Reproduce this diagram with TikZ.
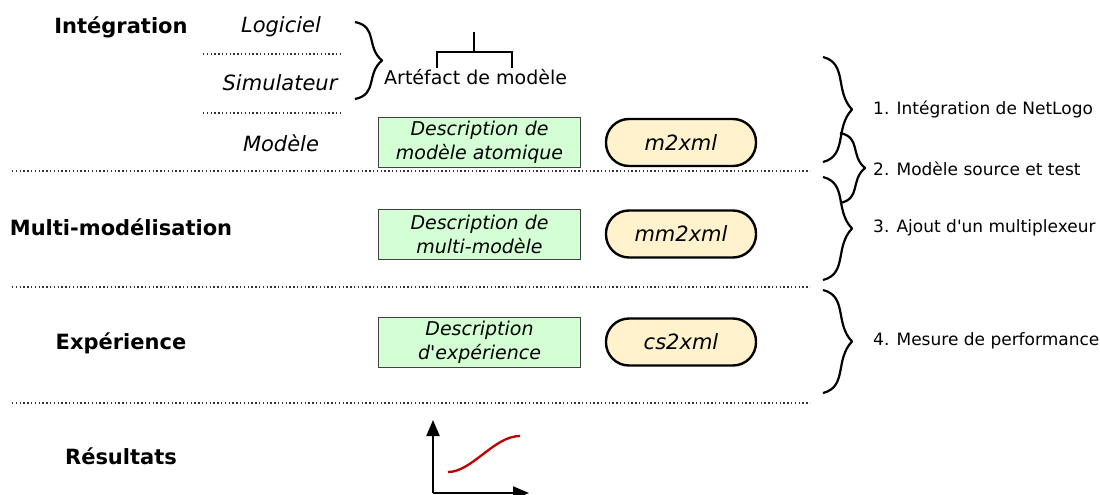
\documentclass[tikz,border=0pt]{standalone}
\usepackage{fontspec}
\setmainfont{DejaVu Sans}[Ligatures=TeXOff]
\usetikzlibrary{arrows.meta}
\definecolor{boxgreen}{RGB}{212,255,212}
\definecolor{cream}{RGB}{255,242,204}
\definecolor{curvered}{RGB}{192,0,0}
\newcommand\curlybrace[4]{%
  \pgfmathsetmacro\cbA{#1+#4}%
  \pgfmathsetmacro\cbM{(#2+#3)/2}%
  \pgfmathsetmacro\cbH{(#3-#2)/2}%
  \draw[bracestyle] (#1,#2) .. controls ({#1+0.85*#4},{#2+0.12*\cbH}) and ({#1+0.4*#4},{\cbM-0.35*\cbH}) .. (\cbA,\cbM)
    .. controls ({#1+0.4*#4},{\cbM+0.35*\cbH}) and ({#1+0.85*#4},{#3-0.12*\cbH}) .. (#1,#3);
}
\begin{document}
\begin{tikzpicture}[x=1pt,y=-1pt,
  section/.style={font=\fontsize{21}{24}\selectfont\bfseries, inner sep=0pt},
  layer/.style={font=\fontsize{21}{24}\selectfont\itshape, inner sep=0pt},
  descbox/.style={draw=black!75, line width=1pt, fill=boxgreen, minimum width=202pt, minimum height=50pt, inner sep=0pt, align=center, font=\fontsize{19}{24}\selectfont\itshape},
  toolbox/.style={draw=black, line width=2.4pt, fill=cream, rounded corners=23pt, minimum width=150pt, minimum height=47pt, inner sep=0pt, font=\fontsize{21}{24}\selectfont\itshape},
  sep/.style={black!80, line width=1.3pt, dash pattern=on 1.3pt off 2.5pt},
  bracestyle/.style={line width=2.2pt, line join=round},
  steplabel/.style={anchor=west, inner sep=0pt, font=\fontsize{17}{20}\selectfont},
  axis/.style={line width=2.2pt, -{Triangle[length=16pt,width=13pt]}}
]
\useasboundingbox (0,0) rectangle (1100,495);

% section titles
\node[section] (tInt) at (121,27) {Intégration};
\node[section] (tMul) at (121,227) {Multi-modélisation};
\node[section] (tExp) at (121,343) {Expérience};
\node[section] (tRes) at (121,456) {Résultats};

% integration sub-layers
\node[layer] (lLog) at (281,27) {Logiciel};
\node[layer] (lSim) at (280,83) {Simulateur};
\node[layer] (lMod) at (281,143) {Modèle};

% separators
\coordinate (s1a) at (203,54);  \coordinate (s1b) at (343,54);
\coordinate (s2a) at (203,113); \coordinate (s2b) at (343,113);
\coordinate (s3a) at (12,171);  \coordinate (s3b) at (810,171);
\coordinate (s4a) at (12,287);  \coordinate (s4b) at (810,287);
\coordinate (s5a) at (12,403);  \coordinate (s5b) at (810,403);
\draw[sep] (s1a) -- (s1b);
\draw[sep] (s2a) -- (s2b);
\draw[sep] (s3a) -- (s3b);
\draw[sep] (s4a) -- (s4b);
\draw[sep] (s5a) -- (s5b);

% left brace and model artefact
\curlybrace{355}{22}{99}{27}
\node[inner sep=0pt, anchor=west, font=\fontsize{19}{22}\selectfont] (art) at (384,77) {Artéfact de modèle};
\coordinate (tTop) at (474,32);
\coordinate (tMid) at (474,52);
\coordinate (tL) at (437,52);
\coordinate (tR) at (512,52);
\coordinate (tLb) at (437,68);
\coordinate (tRb) at (512,68);
\draw[line width=2.2pt] (tTop) -- (tMid);
\draw[line width=2.2pt] (tLb) -- (tL) -- (tR) -- (tRb);

% description boxes
\node[descbox] (d1) at (479.5,142) {Description de\\modèle atomique};
\node[descbox] (d2) at (479.5,234) {Description de\\multi-modèle};
\node[descbox] (d3) at (479.5,342) {Description\\d'expérience};

% tools
\node[toolbox] (m1) at (681,142.5) {m2xml};
\node[toolbox] (m2) at (681,234) {mm2xml};
\node[toolbox] (m3) at (681,342) {cs2xml};

% right braces
\curlybrace{823}{57}{162}{29}
\curlybrace{840}{133}{203}{25}
\curlybrace{823}{177}{280}{29}
\curlybrace{823}{290}{393}{29}
\node[steplabel] (st1) at (873,109) {1. Intégration de NetLogo};
\node[steplabel] (st2) at (873,169) {2. Modèle source et test};
\node[steplabel] (st3) at (873,228) {3. Ajout d'un multiplexeur};
\node[steplabel] (st4) at (873,341) {4. Mesure de performance};

% results chart
\coordinate (o) at (433,493);
\coordinate (ytop) at (433,420);
\coordinate (xend) at (529,493);
\draw[axis] (o) -- (ytop);
\draw[axis] (o) -- (xend);
\coordinate (c0) at (448,472);
\coordinate (c1) at (520,436);
\draw[curvered, line width=2.3pt] (c0) .. controls (472,472) and (494,436) .. (c1);
\end{tikzpicture}
\end{document}
